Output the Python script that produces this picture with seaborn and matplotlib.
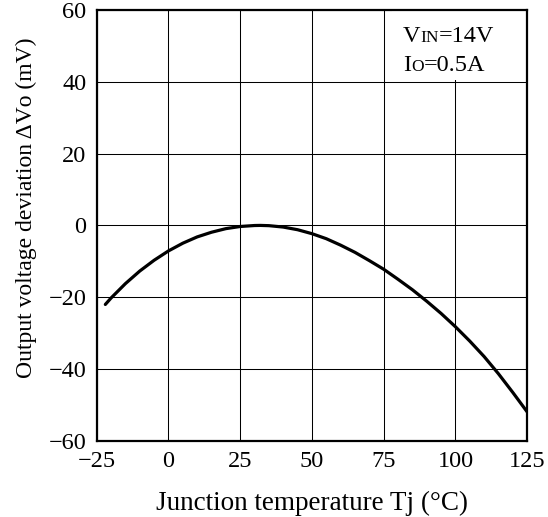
import matplotlib
matplotlib.use("Agg")
import matplotlib.pyplot as plt
import seaborn as sns
from matplotlib.offsetbox import TextArea, HPacker, VPacker, AnchoredOffsetbox
from matplotlib.patches import Rectangle

# junction temperature (degC) and output voltage deviation (mV)
temp = [-22, -20, -15, -10, -5, 0, 5, 10, 15, 20, 25, 30, 32, 35, 40, 45, 50, 55, 60, 65, 70,
        75, 80, 85, 90, 95, 100, 105, 110, 115, 120, 125]
dv = [-22.0, -20.2, -16.2, -12.7, -9.7, -7.1, -4.95, -3.2, -1.9, -0.9, -0.3, -0.03, 0.0, -0.07,
      -0.46, -1.2, -2.3, -3.7, -5.5, -7.5, -9.8, -12.2, -15.0, -17.9, -21.1, -24.5, -28.2,
      -32.2, -36.5, -41.3, -46.5, -51.9]

xticks = [-25, 0, 25, 50, 75, 100, 125]
yticks = [-60, -40, -20, 0, 20, 40, 60]

sns.set_theme(style="white")
plt.rcParams["font.family"] = ["Liberation Serif", "DejaVu Serif"]

fig = plt.figure(figsize=(5.48, 5.17), dpi=100)
ax = fig.add_axes([0.1765, 0.147, 0.7855, 0.834])

sns.lineplot(x=temp, y=dv, color="black", linewidth=2.3, ax=ax)

ax.set_xlim(-25, 125)
ax.set_ylim(-60, 60)
ax.set_xticks(xticks)
ax.set_yticks(yticks)
ax.tick_params(axis="both", length=0, pad=7.5, labelsize=17.5, colors="black")
ax.grid(True, color="black", linewidth=0.75)
ax.set_axisbelow(True)
for s in ax.spines.values():
    s.set_color("black")
    s.set_linewidth(1.6)

ax.set_xlabel("Junction temperature Tj (°C)", fontsize=19.5, color="black", labelpad=13)
ax.set_ylabel("Output voltage deviation ΔV\u1d0f (mV)", fontsize=17, color="black")
ax.yaxis.set_label_coords(-0.138, 0.54)

# condition box in the upper right corner
big, small = 17.5, 12.5


def cond(main, sub, rest):
    parts = [TextArea(main, textprops=dict(fontsize=big, color="black")),
             TextArea(sub, textprops=dict(fontsize=small, color="black")),
             TextArea(rest, textprops=dict(fontsize=big, color="black"))]
    return HPacker(children=parts, align="baseline", pad=0, sep=0)


box = VPacker(children=[cond("V", "IN", "=14V"), cond("I", "O", "=0.5A")], align="left", pad=0, sep=6)
ax.add_patch(Rectangle((0.685, 0.838), 0.32, 0.17, transform=ax.transAxes,
                       facecolor="white", edgecolor="none", zorder=2.1))
anch = AnchoredOffsetbox(loc="upper left", child=box, pad=0, borderpad=0, frameon=False,
                         bbox_to_anchor=(0.712, 0.963), bbox_transform=ax.transAxes)
anch.set_zorder(2.2)
ax.add_artist(anch)

fig.savefig("out.png", dpi=100)
